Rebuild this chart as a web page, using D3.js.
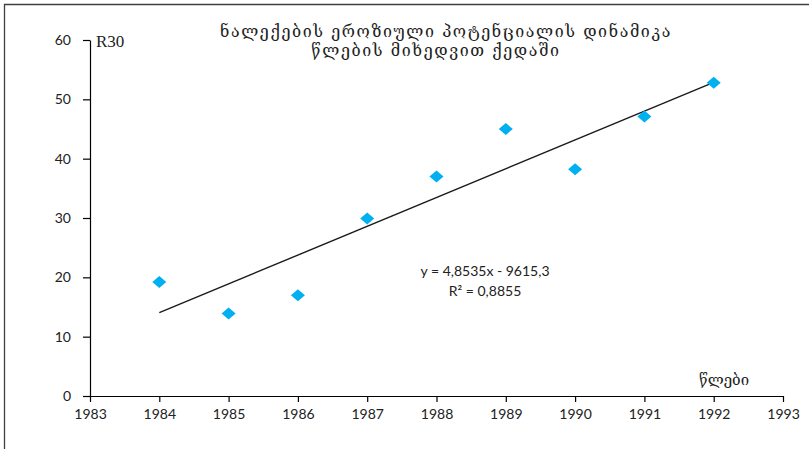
<!DOCTYPE html>
<html>
<head>
<meta charset="utf-8">
<script src="https://cdn.jsdelivr.net/npm/d3@7"></script>
<style>
  body { margin: 0; background: #fff; }
  svg { display: block; }
</style>
</head>
<body>
<svg id="chart" width="809" height="449"></svg>
<script>
// Erosion potential R30 of rainfall, by year
const years = [1984, 1985, 1986, 1987, 1988, 1989, 1990, 1991, 1992];
const r30 = [19.2, 13.9, 17.0, 29.9, 37.0, 45.0, 38.2, 47.1, 52.8];
const xTicks = [1983, 1984, 1985, 1986, 1987, 1988, 1989, 1990, 1991, 1992, 1993];
const yTicks = [0, 10, 20, 30, 40, 50, 60];
const trendSlope = 4.8535;
const trendIntercept = -9615.3;
const titleLines = ["ნალექების ეროზიული პოტენციალის დინამიკა", "წლების მიხედვით ქედაში"];
const yLabel = "R30";
const xLabel = "წლები";
const equationLines = ["y = 4,8535x - 9615,3", "R² = 0,8855"];

const svg = d3.select("#chart");
const plotLeft = 90, plotRight = 783, plotTop = 40, plotBottom = 396;

const x = d3.scaleLinear().domain([1983, 1993]).range([plotLeft, plotRight]);
const y = d3.scaleLinear().domain([0, 60]).range([plotBottom, plotTop]);

// outer frame (top and left edges)
svg.append("path")
  .attr("d", "M4.5,449 L4.5,4.5 L809,4.5")
  .attr("fill", "none").attr("stroke", "#404040").attr("stroke-width", 1.3);

const tickFont = "Lato, 'Open Sans', sans-serif";

// y axis
const yAxis = svg.append("g").attr("transform", `translate(${plotLeft},0)`)
  .call(d3.axisLeft(y).tickValues(yTicks).tickSize(7).tickPadding(12).tickSizeOuter(0));
// x axis
const xAxis = svg.append("g").attr("transform", `translate(0,${plotBottom})`)
  .call(d3.axisBottom(x).tickValues(xTicks).tickFormat(d3.format("d")).tickSize(6).tickPadding(7).tickSizeOuter(0));

[yAxis, xAxis].forEach(g => {
  g.select(".domain").attr("stroke", "#000").attr("stroke-width", 1.2);
  g.selectAll(".tick line").attr("stroke", "#000").attr("stroke-width", 1.2);
  g.selectAll(".tick text").attr("fill", "#222").style("font-family", tickFont).style("font-size", "14px");
});

// linear trend line
const trend = d => trendSlope * d + trendIntercept;
const x0 = d3.min(years), x1 = d3.max(years);
svg.append("line")
  .attr("x1", x(x0)).attr("y1", y(trend(x0)))
  .attr("x2", x(x1)).attr("y2", y(trend(x1)))
  .attr("stroke", "#1a1a1a").attr("stroke-width", 1.4);

// data markers
svg.append("g").selectAll("path")
  .data(years.map((yr, i) => ({ yr, v: r30[i] })))
  .join("path")
  .attr("transform", d => `translate(${x(d.yr)},${y(d.v)})`)
  .attr("d", "M-7,0 L0,-6 L7,0 L0,6 Z")
  .attr("fill", "#00b0f0");

// title, two centred lines
const title = svg.append("text")
  .attr("text-anchor", "middle")
  .style("font-family", "'DejaVu Serif', serif")
  .style("font-size", "16px")
  .style("letter-spacing", "1.6px")
  .attr("fill", "#222");
const titleX = [446, 436];
titleLines.forEach((t, i) => {
  title.append("tspan").attr("x", titleX[i]).attr("y", 37 + i * 19).text(t);
});

// axis titles
svg.append("text").attr("x", 96).attr("y", 47)
  .style("font-family", "'Liberation Serif', 'Times New Roman', serif")
  .style("font-size", "17px").attr("fill", "#222").text(yLabel);
svg.append("text").attr("x", 724).attr("y", 385).attr("text-anchor", "middle")
  .style("font-family", "'DejaVu Serif', serif")
  .style("font-size", "15px").attr("fill", "#222").text(xLabel);

// regression equation
const eq = svg.append("text").attr("text-anchor", "middle")
  .style("font-family", tickFont).style("font-size", "14px").attr("fill", "#222");
equationLines.forEach((t, i) => {
  eq.append("tspan").attr("x", 485).attr("y", 276 + i * 20).text(t);
});
</script>
</body>
</html>
